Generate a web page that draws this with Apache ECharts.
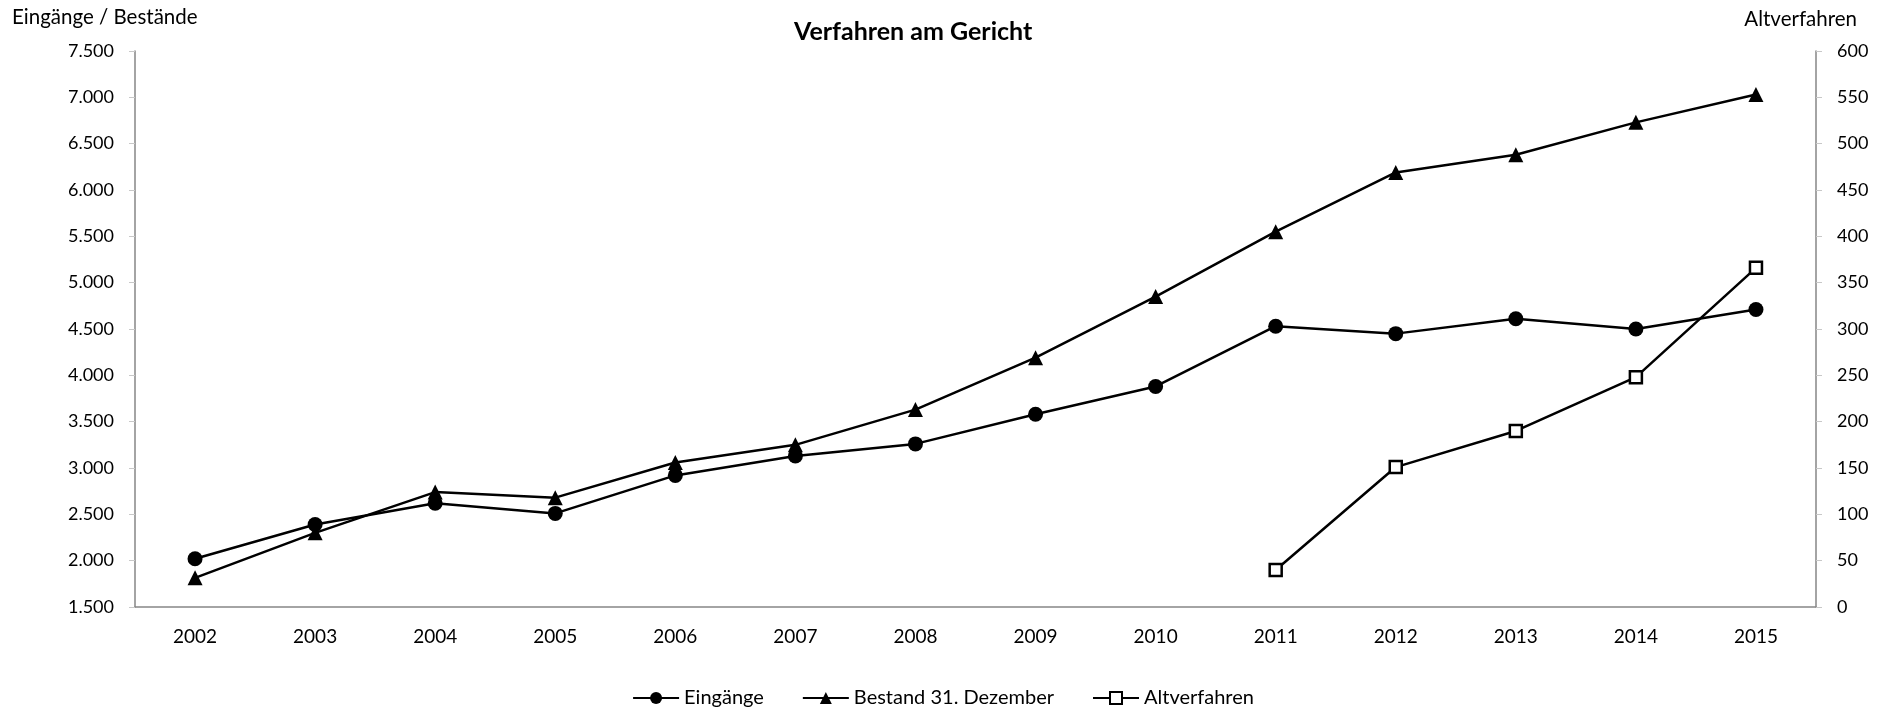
<!DOCTYPE html>
<html>
<head>
<meta charset="utf-8">
<script src="https://cdn.jsdelivr.net/npm/echarts@6/dist/echarts.min.js"></script>
<style>
  html, body { margin: 0; padding: 0; background: #fff; }
  #chart { width: 1886px; height: 709px; }
</style>
</head>
<body>
<div id="chart"></div>
<script>
var years = ["2002", "2003", "2004", "2005", "2006", "2007", "2008",
  "2009", "2010", "2011", "2012", "2013", "2014", "2015"];

var eingaenge = [2020, 2390, 2620, 2510, 2920, 3130, 3260,
  3580, 3880, 4530, 4450, 4610, 4500, 4710];

var bestand = [1815, 2300, 2740, 2680, 3060, 3250, 3630,
  4190, 4850, 5550, 6190, 6380, 6730, 7030];

// only reported from 2011 on
var altverfahren = [null, null, null, null, null, null, null,
  null, null, 40, 151, 190, 248, 366];

var fontFam = "Lato, 'Open Sans', sans-serif";
var axisGrey = "#868686";

function germanNum(v) {
  return String(v).replace(/\B(?=(\d{3})+(?!\d))/g, ".");
}

var myChart = echarts.init(document.getElementById("chart"));

myChart.setOption({
  animation: false,
  textStyle: { fontFamily: fontFam, color: "#000" },
  title: {
    text: "Verfahren am Gericht",
    left: 789,
    top: 14,
    textStyle: { fontFamily: fontFam, fontSize: 25, fontWeight: "bold", color: "#000" }
  },
  graphic: [
    {
      type: "text", left: 12, top: 7,
      style: { text: "Eingänge / Bestände", font: "20.5px " + fontFam, fill: "#000" }
    },
    {
      type: "text", right: 29, top: 9,
      style: { text: "Altverfahren", font: "20.5px " + fontFam, fill: "#000" }
    }
  ],
  legend: {
    top: 683,
    left: "center",
    itemWidth: 46,
    itemHeight: 15,
    itemGap: 38,
    textStyle: { fontFamily: fontFam, fontSize: 20, color: "#000" },
    data: ["Eingänge", "Bestand 31. Dezember", "Altverfahren"]
  },
  grid: { left: 135, right: 70, top: 51, bottom: 102, containLabel: false },
  xAxis: {
    type: "category",
    data: years,
    boundaryGap: true,
    axisLine: { lineStyle: { color: axisGrey, width: 1.5 } },
    axisTick: { alignWithLabel: false, length: 6, lineStyle: { color: "#c8c8c8" } },
    axisLabel: { fontSize: 19, color: "#000", margin: 20 },
    splitLine: { show: false }
  },
  yAxis: [
    {
      type: "value",
      min: 1500,
      max: 7500,
      interval: 500,
      axisLine: { show: true, lineStyle: { color: axisGrey, width: 1.5 } },
      axisTick: { show: true, length: 6, lineStyle: { color: "#c8c8c8" } },
      axisLabel: { fontSize: 18, color: "#000", margin: 21, formatter: germanNum },
      splitLine: { show: false }
    },
    {
      type: "value",
      min: 0,
      max: 600,
      interval: 50,
      position: "right",
      axisLine: { show: true, lineStyle: { color: axisGrey, width: 1.5 } },
      axisTick: { show: true, length: 6, lineStyle: { color: "#c8c8c8" } },
      axisLabel: { fontSize: 18, color: "#000", margin: 21 },
      splitLine: { show: false }
    }
  ],
  series: [
    {
      name: "Eingänge",
      type: "line",
      data: eingaenge,
      symbol: "circle",
      symbolSize: 15,
      lineStyle: { color: "#000", width: 2.5 },
      itemStyle: { color: "#000" }
    },
    {
      name: "Bestand 31. Dezember",
      type: "line",
      data: bestand,
      symbol: "triangle",
      symbolSize: 15,
      lineStyle: { color: "#000", width: 2.5 },
      itemStyle: { color: "#000" }
    },
    {
      name: "Altverfahren",
      type: "line",
      yAxisIndex: 1,
      data: altverfahren,
      symbol: "rect",
      symbolSize: 12,
      lineStyle: { color: "#000", width: 2.5 },
      itemStyle: { color: "#fff", borderColor: "#000", borderWidth: 2.5 }
    }
  ]
});
</script>
</body>
</html>
